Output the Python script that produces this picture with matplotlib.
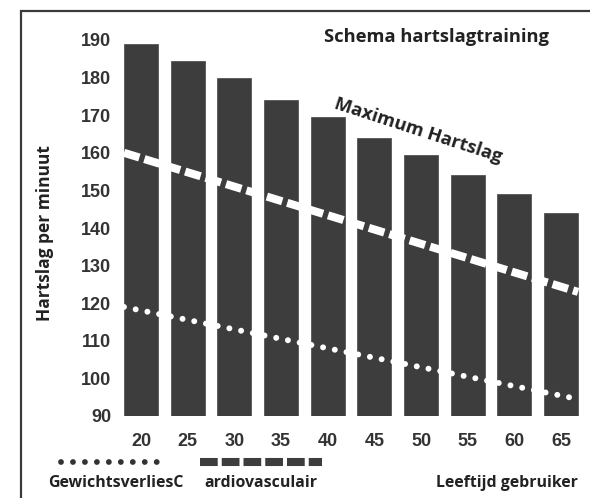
import numpy as np
import matplotlib
matplotlib.use("Agg")
import matplotlib.pyplot as plt
from matplotlib.lines import Line2D
from matplotlib.patches import Rectangle

# data
ages = ["20", "25", "30", "35", "40", "45", "50", "55", "60", "65"]
max_hr = [189, 184.5, 180, 174, 169.5, 164, 159.5, 154, 149, 144]
cardio_line = [160, 123]      # start / end value of the dashed line
weight_line = [119, 94.5]     # start / end value of the dotted line
yticks = [90, 100, 110, 120, 130, 140, 150, 160, 170, 180, 190]

W, H = 590, 498
fig = plt.figure(figsize=(W / 100, H / 100), dpi=100)
fig.patch.set_facecolor("white")

def px(x, y):
    return x / W, 1 - y / H

TITLE_FONT = "Open Sans"
TICK_FONT = "Liberation Sans"
DARK = "#333333"
BAR = "#3d3d3d"
TXT = "#222222"

# frame (only left and top visible)
fig.add_artist(Rectangle(px(21, 560), 700 / W, 549 / H, transform=fig.transFigure,
                         fill=False, edgecolor="#3a3a3a", linewidth=1.6))

left_px, right_px, top_px, bot_px = 118, 590, 30, 416
ax = fig.add_axes([left_px / W, 1 - bot_px / H, (right_px - left_px) / W,
                   (bot_px - top_px) / H])
step = 46.67
ax.set_xlim((left_px - 141) / step, (right_px - 141) / step)
ax.set_ylim(90, 90 + (bot_px - top_px) / 3.76)

idx = np.arange(len(ages))
bw = 0.73
ax.bar(idx, np.array(max_hr) - 90, bottom=90, width=bw, color=BAR,
       edgecolor="#555555", linewidth=0.6, zorder=2)

xs = [idx[0] - bw / 2, idx[-1] + bw / 2]
ax.plot(xs, cardio_line, color="white", linewidth=5.8, dashes=[2.0, 0.65],
        solid_capstyle="butt", zorder=3)
ax.plot(xs, weight_line, color="white", linewidth=4.3, dashes=[0.001, 2.0],
        dash_capstyle="round", zorder=3)

for s in ax.spines.values():
    s.set_visible(False)
ax.set_facecolor("none")
ax.set_xticks(idx)
ax.set_xticklabels(ages)
ax.set_yticks(yticks)
ax.tick_params(length=0, labelsize=13, colors=DARK)
ax.tick_params(axis="y", pad=5)
ax.tick_params(axis="x", pad=12)
for lab in ax.get_xticklabels() + ax.get_yticklabels():
    lab.set_fontfamily(TICK_FONT)
    lab.set_fontweight("bold")

fig.text(*px(437, 37), "Schema hartslagtraining", ha="center", va="center",
         fontsize=13.2, fontweight="bold", fontfamily=TITLE_FONT, color=TXT)
fig.text(*px(418, 131), "Maximum Hartslag", ha="center", va="center", rotation=-18,
         rotation_mode="anchor", fontsize=13.2, fontweight="bold",
         fontfamily=TITLE_FONT, color=TXT)
fig.text(*px(45, 233), "Hartslag per minuut", ha="center", va="center", rotation=90,
         fontsize=12.5, fontweight="bold", fontfamily=TITLE_FONT, color=TXT)

# legend-like rows
fig.add_artist(Line2D([61 / W, 158 / W], [1 - 462 / H] * 2, transform=fig.transFigure,
                      color=DARK, linewidth=4.2, dashes=[0.001, 2.05],
                      dash_capstyle="round"))
fig.add_artist(Line2D([200 / W, 322 / W], [1 - 462 / H] * 2, transform=fig.transFigure,
                      color="#3d3d3d", linewidth=5.8, dashes=[2.2, 0.5],
                      solid_capstyle="butt"))
fig.text(*px(48, 483), "GewichtsverliesC", ha="left", va="center", fontsize=11.4,
         fontweight="bold", fontfamily=TITLE_FONT, color=TXT)
fig.text(*px(204, 483), "ardiovasculair", ha="left", va="center", fontsize=11.4,
         fontweight="bold", fontfamily=TITLE_FONT, color=TXT)
fig.text(*px(578, 483), "Leeftijd gebruiker", ha="right", va="center", fontsize=11.4,
         fontweight="bold", fontfamily=TITLE_FONT, color=TXT)

fig.savefig("out.png", dpi=100)
